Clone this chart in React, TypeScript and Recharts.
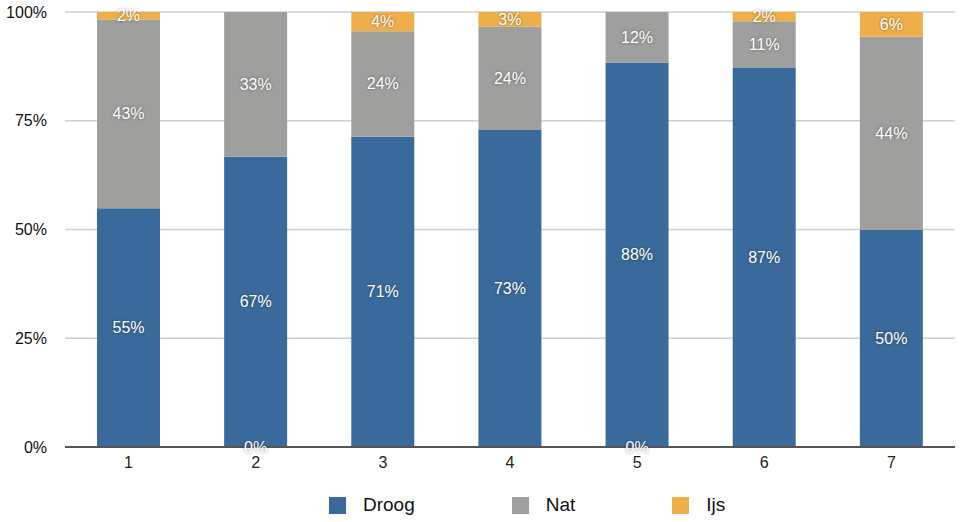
import { BarChart, Bar, XAxis, YAxis, CartesianGrid, LabelList } from "recharts";

const categories = ["1", "2", "3", "4", "5", "6", "7"];
const droog = [54.9, 66.7, 71.3, 72.9, 88.4, 87.1, 49.9];
const nat = [43.4, 33.3, 24.3, 23.7, 11.6, 10.8, 44.4];
const ijs = [1.7, 0, 4.4, 3.4, 0, 2.1, 5.7];
const yTicks = [0, 0.25, 0.5, 0.75, 1];

const series = [
  { key: "droog", name: "Droog", color: "#3a6a9b" },
  { key: "nat", name: "Nat", color: "#9f9f9d" },
  { key: "ijs", name: "Ijs", color: "#eeaf4b" },
];

const data = categories.map((c, i) => ({
  cat: c,
  droog: droog[i],
  nat: nat[i],
  ijs: ijs[i],
}));

const font = "'Liberation Sans', Arial, Helvetica, sans-serif";

const labelStyle = {
  fill: "#fff",
  fontSize: 16,
  fontFamily: font,
  textShadow: "0 0 3px rgba(0,0,0,0.45)",
};

function SegmentLabel(props: any) {
  const { x, y, width, height, value } = props;
  if (!value) return null;
  return (
    <text
      x={x + width / 2}
      y={y + height / 2}
      textAnchor="middle"
      dominantBaseline="central"
      style={labelStyle}
    >
      {Math.round(value)}%
    </text>
  );
}

// droog sits on the baseline, so a zero ijs share gets its label drawn there
function DroogLabel(props: any) {
  const { x, y, width, height, value, index } = props;
  return (
    <g>
      <SegmentLabel x={x} y={y} width={width} height={height} value={value} />
      {ijs[index] === 0 ? (
        <text
          x={x + width / 2}
          y={y + height}
          textAnchor="middle"
          dominantBaseline="central"
          style={labelStyle}
        >
          0%
        </text>
      ) : null}
    </g>
  );
}

export default function App() {
  return (
    <div style={{ width: 966, height: 522, background: "#fff", fontFamily: font }}>
      <style>{`body{margin:0}`}</style>
      <BarChart
        width={966}
        height={480}
        data={data}
        stackOffset="expand"
        margin={{ top: 12, right: 11, left: 0, bottom: 3 }}
      >
        <CartesianGrid vertical={false} stroke="#cfcfcf" strokeWidth={1.5} />
        <XAxis
          dataKey="cat"
          height={30}
          tickLine={false}
          axisLine={{ stroke: "#555", strokeWidth: 2 }}
          tick={{ fill: "#222", fontSize: 16, fontFamily: font }}
          tickMargin={4}
        />
        <YAxis
          width={65}
          domain={[0, 1]}
          ticks={yTicks}
          tickFormatter={(v) => `${Math.round(v * 100)}%`}
          tickLine={false}
          axisLine={false}
          tick={{ fill: "#111", fontSize: 16, fontFamily: font }}
          tickMargin={12}
        />
        {series.map((s) => (
          <Bar
            key={s.key}
            dataKey={s.key}
            name={s.name}
            stackId="a"
            fill={s.color}
            barSize={63}
            isAnimationActive={false}
          >
            <LabelList
              dataKey={s.key}
              content={s.key === "droog" ? DroogLabel : SegmentLabel}
            />
          </Bar>
        ))}
      </BarChart>
      <div
        style={{
          height: 50,
          display: "flex",
          alignItems: "center",
          paddingLeft: 329,
          gap: 97,
        }}
      >
        {series.map((s) => (
          <div key={s.key} style={{ display: "flex", alignItems: "center" }}>
            <span
              style={{
                width: 17,
                height: 17,
                background: s.color,
                display: "inline-block",
                marginRight: 17,
              }}
            />
            <span style={{ fontSize: 19, color: "#111" }}>{s.name}</span>
          </div>
        ))}
      </div>
    </div>
  );
}
